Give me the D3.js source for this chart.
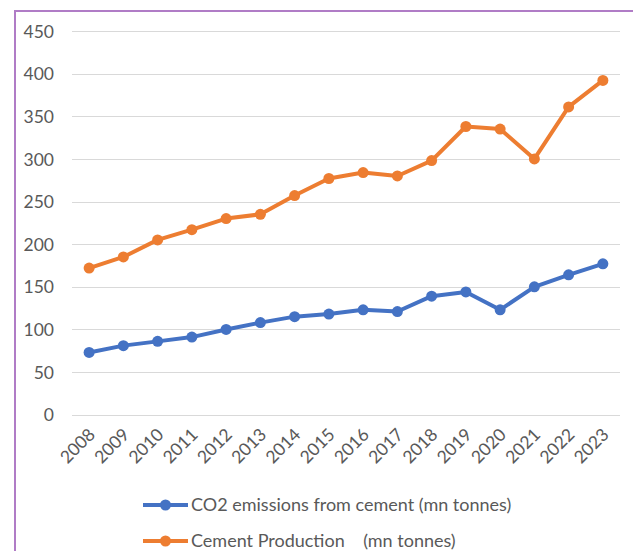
<!DOCTYPE html>
<html><head><meta charset="utf-8">
<script src="https://cdn.jsdelivr.net/npm/d3@7"></script>
<style>html,body{margin:0;padding:0;background:#fff;}svg{display:block;}</style>
</head><body>
<svg id="c" width="633" height="551"></svg>
<script>
const years = ["2008","2009","2010","2011","2012","2013","2014","2015","2016","2017","2018","2019","2020","2021","2022","2023"];
const co2 = [73, 81, 86, 91, 100, 108, 115, 118, 123, 121, 139, 144, 123, 150, 164, 177];
const cement = [172, 185, 205, 217, 230, 235, 257, 277, 284, 280, 298, 338, 335, 300, 361, 392];
const yTicks = [0, 50, 100, 150, 200, 250, 300, 350, 400, 450];
const seriesNames = ["CO2 emissions from cement (mn tonnes)", "Cement Production\u00a0\u00a0\u00a0\u00a0(mn tonnes)"];
const colors = ["#4472C4", "#ED7D31"];

const svg = d3.select("#c");
const font = "Lato, 'Open Sans', sans-serif";
const txt = "#595959";

// frame (left and top border)
svg.append("path").attr("d", "M15,551 V11 H633").attr("fill", "none")
  .attr("stroke", "#B07CC6").attr("stroke-width", 2);

const x = d3.scaleBand().domain(years).range([72, 620]);
const y = d3.scaleLinear().domain([0, 450]).range([414.7, 31]);

// grid
svg.append("g").selectAll("line").data(yTicks).join("line")
  .attr("x1", 72).attr("x2", 620)
  .attr("y1", d => Math.round(y(d)) + 0.5).attr("y2", d => Math.round(y(d)) + 0.5)
  .attr("stroke", "#D9D9D9").attr("stroke-width", 1);

// y axis labels
const yAxis = d3.axisLeft(y).tickValues(yTicks).tickSize(0).tickPadding(0);
const gy = svg.append("g").attr("transform", "translate(54,0)").call(yAxis);
gy.select(".domain").remove();
gy.selectAll("text").attr("font-family", font).attr("font-size", 17.5).attr("fill", txt).attr("dy", "0.35em");

// x axis labels
const xAxis = d3.axisBottom(x).tickSize(0).tickPadding(0);
const gx = svg.append("g").attr("transform", "translate(0,414.7)").call(xAxis);
gx.select(".domain").remove();
gx.selectAll("text").attr("font-family", font).attr("font-size", 17.5).attr("fill", txt)
  .attr("text-anchor", "end").attr("dy", null)
  .attr("transform", "translate(7,21) rotate(-45)");

const cx = d => x(d) + x.bandwidth() / 2;
const line = d3.line().x((d, i) => cx(years[i])).y(d => y(d));

[co2, cement].forEach((s, k) => {
  const g = svg.append("g");
  g.append("path").datum(s).attr("d", line).attr("fill", "none")
    .attr("stroke", colors[k]).attr("stroke-width", 4).attr("stroke-linejoin", "round");
  g.selectAll("circle").data(s).join("circle")
    .attr("cx", (d, i) => cx(years[i])).attr("cy", d => y(d)).attr("r", 5.5)
    .attr("fill", colors[k]);
});

// legend
const legY = [505, 541];
seriesNames.forEach((n, k) => {
  const g = svg.append("g");
  g.append("line").attr("x1", 143).attr("x2", 188).attr("y1", legY[k]).attr("y2", legY[k])
    .attr("stroke", colors[k]).attr("stroke-width", 4);
  g.append("circle").attr("cx", 165.5).attr("cy", legY[k]).attr("r", 5.5).attr("fill", colors[k]);
  g.append("text").attr("x", 191).attr("y", legY[k]).attr("dy", "0.35em")
    .attr("font-family", font).attr("font-size", 18).attr("fill", txt).text(n);
});
</script>
</body></html>
